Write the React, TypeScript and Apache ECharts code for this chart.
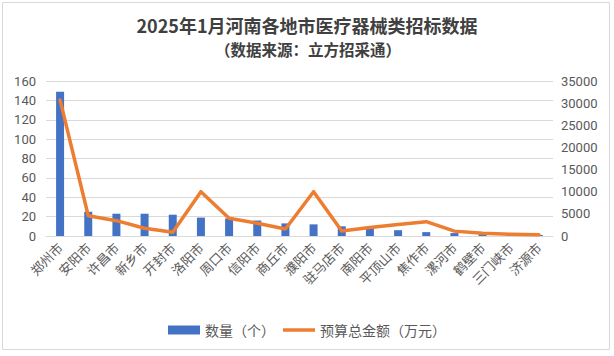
import React, { useEffect, useRef } from "react";
import * as echarts from "echarts";

const categories = ["郑州市", "安阳市", "许昌市", "新乡市", "开封市", "洛阳市", "周口市", "信阳市", "商丘市", "濮阳市", "驻马店市", "南阳市", "平顶山市", "焦作市", "漯河市", "鹤壁市", "三门峡市", "济源市"];
const counts = [149, 25, 23, 23, 22, 19, 18, 16, 13, 12, 10, 8, 6, 4, 3, 2, 1, 1];
const budgets = [30700, 4580, 3460, 1740, 840, 10000, 4000, 2870, 1580, 10000, 1130, 1900, 2600, 3230, 1100, 600, 380, 300];
const countTicks = { min: 0, max: 160, interval: 20 };
const budgetTicks = { min: 0, max: 35000, interval: 5000 };
const titleText = "2025年1月河南各地市医疗器械类招标数据";
const subtitleText = "（数据来源：立方招采通）";
const seriesNames = ["数量（个）", "预算总金额（万元）"];

const CJK = '"Noto Sans CJK SC", "Noto Sans", sans-serif';
const NUM = 'Roboto, "Noto Sans CJK SC", sans-serif';

export default function App() {
  const ref = useRef<HTMLDivElement>(null);
  useEffect(() => {
    if (!ref.current) return;
    const chart = echarts.init(ref.current, undefined, { renderer: "svg" });
    chart.setOption({
      animation: false,
      backgroundColor: "#ffffff",
      textStyle: { fontFamily: CJK },
      graphic: [
        {
          type: "rect",
          shape: { x: 2.5, y: 2.5, width: 607, height: 347 },
          style: { fill: "none", stroke: "#d9d9d9", lineWidth: 1 },
          silent: true,
          z: -1,
        },
        {
          type: "text",
          x: 307,
          y: 25,
          style: {
            text: titleText,
            fontFamily: CJK,
            fontSize: 18,
            fontWeight: "bold",
            fill: "#404040",
            align: "center",
            verticalAlign: "middle",
          },
        },
        {
          type: "text",
          x: 308,
          y: 48.5,
          style: {
            text: subtitleText,
            fontFamily: CJK,
            fontSize: 15.5,
            fontWeight: "bold",
            fill: "#404040",
            align: "center",
            verticalAlign: "middle",
          },
        },
      ],
      legend: {
        top: 318,
        left: "center",
        itemGap: 8,
        itemWidth: 32,
        itemHeight: 9,
        textStyle: { color: "#595959", fontSize: 14, fontFamily: CJK },
        data: [
          { name: seriesNames[0], icon: "rect" },
          { name: seriesNames[1], icon: "path://M0 0H32V3.5H0Z" },
        ],
      },
      grid: { left: 46, right: 61, top: 81, bottom: 120, containLabel: false },
      xAxis: {
        type: "category",
        data: categories,
        axisLine: { lineStyle: { color: "#d9d9d9", width: 1 } },
        axisTick: { show: false },
        axisLabel: {
          rotate: 45,
          color: "#595959",
          fontSize: 13,
          fontFamily: CJK,
          margin: 9,
          interval: 0,
        },
      },
      yAxis: [
        {
          type: "value",
          ...countTicks,
          axisLine: { show: false },
          axisTick: { show: false },
          splitLine: { lineStyle: { color: "#d9d9d9", width: 1 } },
          axisLabel: { color: "#595959", fontSize: 13, fontFamily: NUM, margin: 10 },
        },
        {
          type: "value",
          ...budgetTicks,
          position: "right",
          axisLine: { show: false },
          axisTick: { show: false },
          splitLine: { show: false },
          axisLabel: {
            color: "#595959",
            fontSize: 13,
            fontFamily: NUM,
            margin: 8,
            formatter: (v: number) => String(v),
          },
        },
      ],
      series: [
        {
          name: seriesNames[0],
          type: "bar",
          data: counts,
          yAxisIndex: 0,
          barWidth: 8,
          itemStyle: { color: "#4472c4" },
        },
        {
          name: seriesNames[1],
          type: "line",
          data: budgets,
          yAxisIndex: 1,
          symbol: "none",
          showSymbol: false,
          lineStyle: { color: "#ed7d31", width: 3.5, cap: "round", join: "round" },
          itemStyle: { color: "#ed7d31" },
        },
      ],
    });
    return () => chart.dispose();
  }, []);
  return <div ref={ref} style={{ position: "absolute", left: 0, top: 0, width: 614, height: 356 }} />;
}
